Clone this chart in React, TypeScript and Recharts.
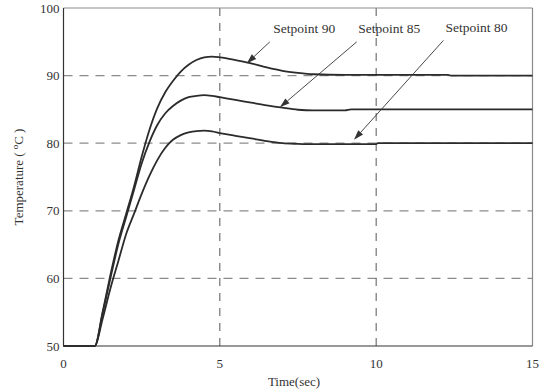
import { LineChart, Line, XAxis, YAxis, ReferenceLine, ReferenceDot } from 'recharts';

// time in seconds
const times = [0, 1, 1.25, 1.5, 1.75, 2, 2.25, 2.5, 2.75, 3, 3.25, 3.5, 3.75, 4, 4.25, 4.5, 4.75, 5, 5.5, 6, 6.5, 7, 7.5, 8, 9, 9.2, 10, 10.05, 12.3, 12.4, 15];
const sp90 = [50, 50, 55, 60.5, 65.5, 69.5, 73.5, 78, 82, 85.2, 87.5, 89.2, 90.6, 91.6, 92.3, 92.7, 92.8, 92.7, 92.3, 91.8, 91.2, 90.7, 90.4, 90.2, 90.1, 90.1, 90.1, 90.1, 90.1, 90.0, 90.0];
const sp85 = [50, 50, 54.8, 60, 65, 69, 73, 77, 80.2, 82.7, 84.4, 85.5, 86.3, 86.8, 87.0, 87.1, 87.0, 86.8, 86.4, 86.0, 85.6, 85.25, 84.95, 84.85, 84.85, 85.0, 85.0, 85.0, 85.0, 85.0, 85.0];
const sp80 = [50, 50, 54, 58.5, 62.5, 66.5, 69.5, 72.5, 75.2, 77.5, 79.3, 80.5, 81.2, 81.6, 81.8, 81.85, 81.75, 81.5, 81.1, 80.7, 80.3, 80.0, 79.9, 79.85, 79.85, 79.85, 79.85, 80.0, 80.0, 80.0, 80.0];

const xTicks = [0, 5, 10, 15];
const yTicks = [50, 60, 70, 80, 90, 100];
const xGrid = [5, 10];
const yGrid = [60, 70, 80, 90];

// labels + arrows (text anchor point, arrow start, arrow tip)
const notes = [
  { text: 'Setpoint 90', tx: 6.71, ty: 96.3, x1: 6.6, y1: 95.0, x2: 5.86, y2: 91.8 },
  { text: 'Setpoint 85', tx: 9.43, ty: 96.3, x1: 9.38, y1: 95.0, x2: 6.92, y2: 85.3 },
  { text: 'Setpoint 80', tx: 12.22, ty: 96.4, x1: 12.15, y1: 95.2, x2: 9.29, y2: 80.5 },
];

const data = times.map((t, i) => ({ t, sp90: sp90[i], sp85: sp85[i], sp80: sp80[i] }));

const FONT = "'Liberation Serif'";
const tickStyle = { fill: '#333', fontSize: 13, fontFamily: FONT, style: { fontFamily: FONT } };

const Arrow = (props: any) => {
  const { x1, y1, x2, y2 } = props;
  if (x1 == null) return null;
  const a = Math.atan2(y2 - y1, x2 - x1);
  const len = 10, w = 3.2;
  const bx = x2 - len * Math.cos(a), by = y2 - len * Math.sin(a);
  const px = -Math.sin(a) * w, py = Math.cos(a) * w;
  return (
    <g>
      <line x1={x1} y1={y1} x2={bx} y2={by} stroke="#333" strokeWidth={0.9} />
      <polygon points={`${x2},${y2} ${bx + px},${by + py} ${bx - px},${by - py}`} fill="#333" />
    </g>
  );
};

export default function App() {
  return (
    <div style={{ position: 'absolute', left: 0, top: 0, background: '#fff', fontFamily: FONT }}>
      <LineChart width={545} height={391} data={data} margin={{ top: 8, right: 12.5, bottom: 15, left: 13.5 }}
        style={{ fontFamily: FONT }}>
        <XAxis
          type="number" dataKey="t" domain={[0, 15]} ticks={xTicks}
          tickLine={false} tickSize={0} tickMargin={13} height={30}
          axisLine={{ stroke: '#333', strokeWidth: 1.2 }} tick={tickStyle}
          label={({ viewBox }: any) => (
            <text x={viewBox.x + viewBox.width / 2 - 4} y={viewBox.y + 40} textAnchor="middle"
              fontSize={13} style={{ fontFamily: FONT }} fill="#333">Time(sec)</text>
          )}
        />
        <YAxis
          type="number" domain={[50, 100]} ticks={yTicks} width={50}
          tickLine={false} tickSize={0} tickMargin={4}
          axisLine={{ stroke: '#333', strokeWidth: 1.2 }} tick={tickStyle}
          label={({ viewBox }: any) => {
            const cx = viewBox.x + 9.5;
            const cy = viewBox.y + viewBox.height / 2;
            return (
              <text x={cx} y={cy} textAnchor="middle" transform={`rotate(-90, ${cx}, ${cy})`}
                fontSize={13} style={{ fontFamily: FONT }} fill="#333">
                Temperature (<tspan dx={3} dy={-5} fontSize={9}>o</tspan><tspan dy={5}>C )</tspan>
              </text>
            );
          }}
        />
        {yGrid.map(v => (
          <ReferenceLine key={'h' + v} y={v} stroke="#8c8c8c" strokeWidth={1.3} strokeDasharray="9 7" />
        ))}
        {xGrid.map(v => (
          <ReferenceLine key={'v' + v} x={v} stroke="#555" strokeWidth={1} strokeDasharray="8 7" />
        ))}
        <ReferenceLine y={100} stroke="#8a8a8a" strokeWidth={1.2} />
        <ReferenceLine x={15} stroke="#8a8a8a" strokeWidth={1.2} />
        <Line type="monotone" dataKey="sp90" stroke="#2b2b2b" strokeWidth={1.8} dot={false} isAnimationActive={false} />
        <Line type="monotone" dataKey="sp85" stroke="#2b2b2b" strokeWidth={1.8} dot={false} isAnimationActive={false} />
        <Line type="monotone" dataKey="sp80" stroke="#2b2b2b" strokeWidth={1.8} dot={false} isAnimationActive={false} />
        {notes.map(n => (
          <ReferenceLine key={'a' + n.text} segment={[{ x: n.x1, y: n.y1 }, { x: n.x2, y: n.y2 }]} shape={Arrow} />
        ))}
        {notes.map(n => (
          <ReferenceDot key={'t' + n.text} x={n.tx} y={n.ty} r={0}
            shape={(p: any) => (
              <text x={p.cx} y={p.cy} fontSize={13.5} style={{ fontFamily: FONT }} fill="#333">{n.text}</text>
            )}
          />
        ))}
      </LineChart>
    </div>
  );
}
